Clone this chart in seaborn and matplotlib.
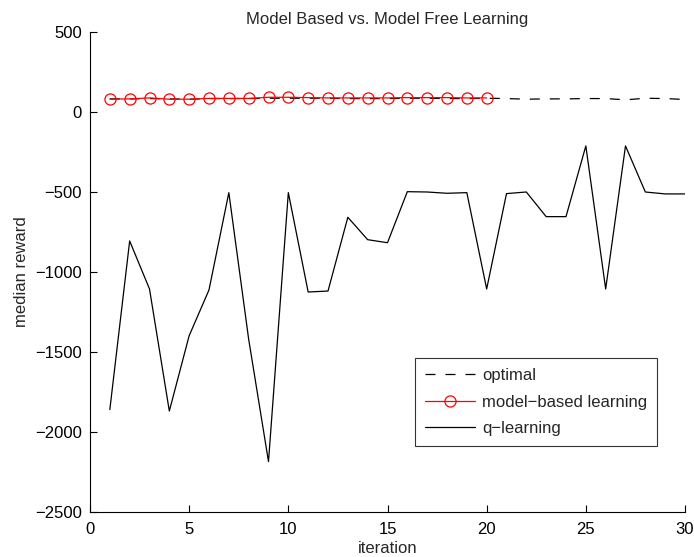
import numpy as np
import pandas as pd
import matplotlib
matplotlib.use("Agg")
import matplotlib.pyplot as plt
import seaborn as sns

sns.set_theme(style="ticks")
plt.rcParams['font.family'] = ['Liberation Sans', 'DejaVu Sans']

iterations = list(range(1, 31))
optimal = [82, 82, 84, 82, 80, 84, 84, 84, 86, 86, 86, 86, 84, 84, 84,
           86, 86, 84, 84, 86, 84, 80, 82, 82, 84, 84, 76, 86, 84, 78]
mb_iterations = list(range(1, 21))
model_based = [80, 82, 88, 80, 80, 85, 85, 85, 92, 92, 90, 88, 88, 88, 88,
               90, 90, 90, 88, 88]
q_learning = [-1860, -806, -1106, -1869, -1398, -1112, -504, -1420, -2185, -504,
              -1125, -1119, -658, -798, -817, -498, -500, -508, -504, -1106,
              -510, -500, -654, -654, -212, -1106, -212, -500, -512, -512]

title = "Model Based vs. Model Free Learning"
xlabel = "iteration"
ylabel = "median reward"
labels = ["optimal", "model\u2212based learning", "q\u2212learning"]

FS = 12

fig = plt.figure(figsize=(6.94, 5.57), dpi=100)
ax = fig.add_axes([90/694, 45/557, 595/694, 480/557])

sns.lineplot(x=iterations, y=optimal, ax=ax, color="black", lw=0.9,
             linestyle=(0, (8, 8)), label=labels[0])
sns.lineplot(x=mb_iterations, y=model_based, ax=ax, color="red", lw=0.9,
             marker="o", markersize=8, markerfacecolor="none",
             markeredgecolor="red", markeredgewidth=0.9, label=labels[1])
sns.lineplot(x=iterations, y=q_learning, ax=ax, color="black", lw=0.9,
             label=labels[2])

ax.set_xlim(0, 30)
ax.set_ylim(-2500, 500)
ax.set_xticks([0, 5, 10, 15, 20, 25, 30])
ax.set_yticks([-2500, -2000, -1500, -1000, -500, 0, 500])
ax.tick_params(direction="in", length=5, width=0.8, labelsize=FS, colors="black")
ax.tick_params(axis="x", pad=7)
ax.tick_params(axis="y", pad=6)
for s in ["top", "right"]:
    ax.spines[s].set_visible(False)
for s in ["left", "bottom"]:
    ax.spines[s].set_color("black")
    ax.spines[s].set_linewidth(0.8)

ax.set_title(title, fontsize=FS, pad=6)
ax.set_xlabel(xlabel, fontsize=FS, labelpad=3)
ax.set_ylabel(ylabel, fontsize=FS, labelpad=4)

leg = ax.legend(loc="upper right", bbox_to_anchor=(0.953, 0.321),
                fontsize=FS, frameon=True, fancybox=False, edgecolor="black",
                handlelength=3.0, handletextpad=0.4, borderpad=0.6,
                labelspacing=0.7, borderaxespad=0)
leg.get_frame().set_linewidth(0.8)

fig.savefig("out.png", dpi=100)
